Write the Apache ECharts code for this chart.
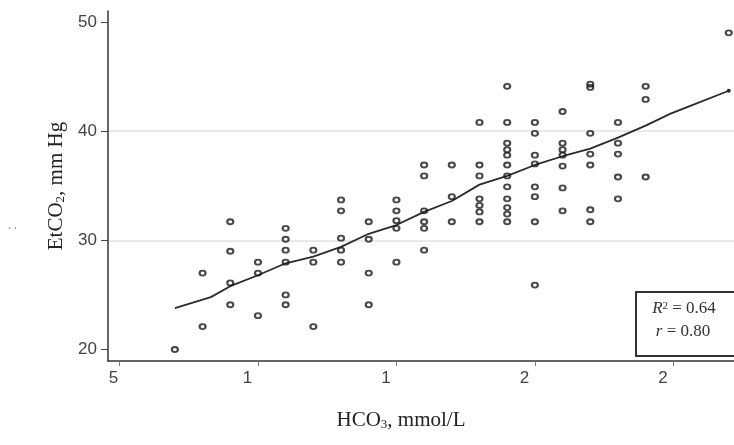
<!DOCTYPE html>
<html>
<head>
<meta charset="utf-8">
<script src="https://cdn.jsdelivr.net/npm/echarts@6/dist/echarts.min.js"></script>
<style>
  html, body { margin: 0; padding: 0; background: #ffffff; }
  #chart { width: 734px; height: 445px; }
</style>
</head>
<body>
<div id="chart"></div>
<script>
// HCO3 value (mmol/L) of each column of measurements
const hco3Columns = [7, 8, 9, 10, 11, 12, 13, 14, 15, 16, 17, 18, 19, 20, 21, 22, 23, 24, 27];
// EtCO2 readings (mm Hg) for each HCO3 column
const etco2Columns = [
  [20.0],
  [27.0, 22.1],
  [31.7, 29.0, 26.1, 24.1],
  [28.0, 27.0, 23.1],
  [31.1, 30.1, 29.1, 28.0, 25.0, 24.1],
  [29.1, 28.0, 22.1],
  [33.7, 32.7, 30.2, 29.1, 28.0],
  [31.7, 30.1, 27.0, 24.1],
  [33.7, 32.7, 31.8, 31.1, 28.0],
  [36.9, 35.9, 32.7, 31.7, 31.1, 29.1],
  [36.9, 34.0, 31.7],
  [40.8, 36.9, 35.9, 33.8, 33.2, 32.6, 31.7],
  [44.1, 40.8, 38.9, 38.3, 37.8, 36.9, 35.9, 34.9, 33.8, 33.0, 32.4, 31.7],
  [40.8, 39.8, 37.8, 37.0, 34.9, 34.0, 31.7, 25.9],
  [41.8, 38.9, 38.3, 37.8, 36.8, 34.8, 32.7],
  [44.3, 44.0, 39.8, 37.9, 36.9, 32.8, 31.7],
  [40.8, 38.9, 37.9, 35.8, 33.8],
  [44.1, 42.9, 35.8],
  [49.0]
];
// Fitted trend through the cloud
const fitX = [7, 8.3, 9, 10, 11, 12, 13, 14, 15, 16, 17, 18, 19, 20, 21, 22, 23, 24, 24.9, 25.5, 27];
const fitY = [23.8, 24.8, 25.8, 26.8, 27.9, 28.5, 29.4, 30.6, 31.4, 32.6, 33.6, 35.1, 35.9, 36.9, 37.7, 38.4, 39.4, 40.5, 41.6, 42.2, 43.7];
// Axis ticks
const xTickValues = [5, 10, 15, 20, 25];
const xTickLabels = ['5', '1', '1', '2', '2'];
const yTickValues = [20, 30, 40, 50];
// Fit statistics
const rSquared = '0.64';
const rValue = '0.80';

const points = [];
hco3Columns.forEach((x, i) => {
  etco2Columns[i].forEach(y => points.push([x, y]));
});

const fitData = fitX.map((x, i) => [x, fitY[i]]);
fitData[fitData.length - 1] = { value: fitData[fitData.length - 1], symbol: 'circle', symbolSize: 4 };

const serif = '"Liberation Serif", "Times New Roman", serif';
const sans = '"Liberation Sans", Arial, sans-serif';

const chart = echarts.init(document.getElementById('chart'), null, { renderer: 'canvas' });

const option = {
  animation: false,
  backgroundColor: '#ffffff',
  grid: { left: 108, right: 0, top: 11, bottom: 84 },
  xAxis: {
    type: 'value',
    min: 4.585,
    max: 27.19,
    name: '{t|HCO}{s|3}{t|, mmol/L}',
    nameLocation: 'middle',
    nameGap: 49,
    nameTextStyle: {
      padding: [0, 40, 0, 0],
      rich: {
        t: { fontFamily: serif, fontSize: 21, color: '#222' },
        s: { fontFamily: serif, fontSize: 13, color: '#222', verticalAlign: 'bottom', padding: [8, 0, 0, 0] }
      }
    },
    axisLine: { show: true, onZero: false, lineStyle: { color: '#333', width: 1.5 } },
    axisTick: { show: true, length: 5, customValues: xTickValues, lineStyle: { color: '#777', width: 1 } },
    axisLabel: {
      customValues: xTickValues,
      margin: 9,
      formatter: v => {
        const lab = xTickLabels[xTickValues.indexOf(v)];
        return v === 5 ? '{a|' + lab + '}' : '{b|' + lab + '}';
      },
      rich: {
        a: { fontFamily: sans, fontSize: 17, color: '#444', padding: [0, 12, 0, 0] },
        b: { fontFamily: sans, fontSize: 17, color: '#444', padding: [0, 21, 0, 0] }
      }
    },
    splitLine: { show: false }
  },
  yAxis: {
    type: 'value',
    min: 18.95,
    max: 51.0,
    splitNumber: 3,
    name: '{t|EtCO}{s|2}{t|, mm Hg}',
    nameLocation: 'middle',
    nameRotate: 90,
    nameGap: 34,
    nameTextStyle: {
      rich: {
        t: { fontFamily: serif, fontSize: 21, color: '#222' },
        s: { fontFamily: serif, fontSize: 13, color: '#222', verticalAlign: 'bottom', padding: [8, 0, 0, 0] }
      }
    },
    axisLine: { show: true, lineStyle: { color: '#333', width: 1.5 } },
    axisTick: { show: true, length: 7, customValues: yTickValues, lineStyle: { color: '#444', width: 1 } },
    axisLabel: {
      customValues: yTickValues,
      margin: 11,
      fontFamily: sans,
      fontSize: 17,
      color: '#444'
    },
    splitLine: {
      show: true,
      showMinLine: false,
      showMaxLine: false,
      lineStyle: { color: '#e2e2e2', width: 1.5 }
    }
  },
  series: [
    {
      type: 'line',
      data: fitData,
      showSymbol: true,
      symbol: 'none',
      itemStyle: { color: '#2a2a2a' },
      lineStyle: { color: '#2a2a2a', width: 1.8 },
      silent: true,
      z: 2
    },
    {
      type: 'scatter',
      data: points,
      symbol: 'circle',
      symbolSize: [6, 5],
      itemStyle: { color: 'rgba(255,255,255,0)', borderColor: '#1a1a1a', borderWidth: 2 },
      silent: true,
      z: 3
    }
  ],
  graphic: [
    { type: 'rect', z: 100, shape: { x: 630, y: 289, width: 8, height: 70 }, style: { fill: '#ffffff' } },
    { type: 'rect', z: 100, shape: { x: 636, y: 292, width: 120, height: 64 },
      style: { fill: '#ffffff', stroke: '#333', lineWidth: 2 } },
    { type: 'text', z: 101, x: 684, y: 309,
      style: {
        text: '{i|R}{p|2}{n| = ' + rSquared + '}',
        align: 'center', verticalAlign: 'middle',
        rich: {
          i: { fontFamily: serif, fontSize: 17, fontStyle: 'italic', fill: '#333' },
          p: { fontFamily: serif, fontSize: 11, fill: '#333', verticalAlign: 'top', padding: [0, 0, 6, 0] },
          n: { fontFamily: serif, fontSize: 17, fill: '#333' }
        }
      } },
    { type: 'text', z: 101, x: 683, y: 332,
      style: {
        text: '{i|r}{n| = ' + rValue + '}',
        align: 'center', verticalAlign: 'middle',
        rich: {
          i: { fontFamily: serif, fontSize: 17, fontStyle: 'italic', fill: '#333' },
          n: { fontFamily: serif, fontSize: 17, fill: '#333' }
        }
      } },
    { type: 'text', z: 101, x: 13, y: 228, rotation: Math.PI / 2,
      style: { text: ':', fontFamily: sans, fontSize: 12, fill: '#777', align: 'center', verticalAlign: 'middle' } }
  ]
};

chart.setOption(option);
</script>
</body>
</html>
